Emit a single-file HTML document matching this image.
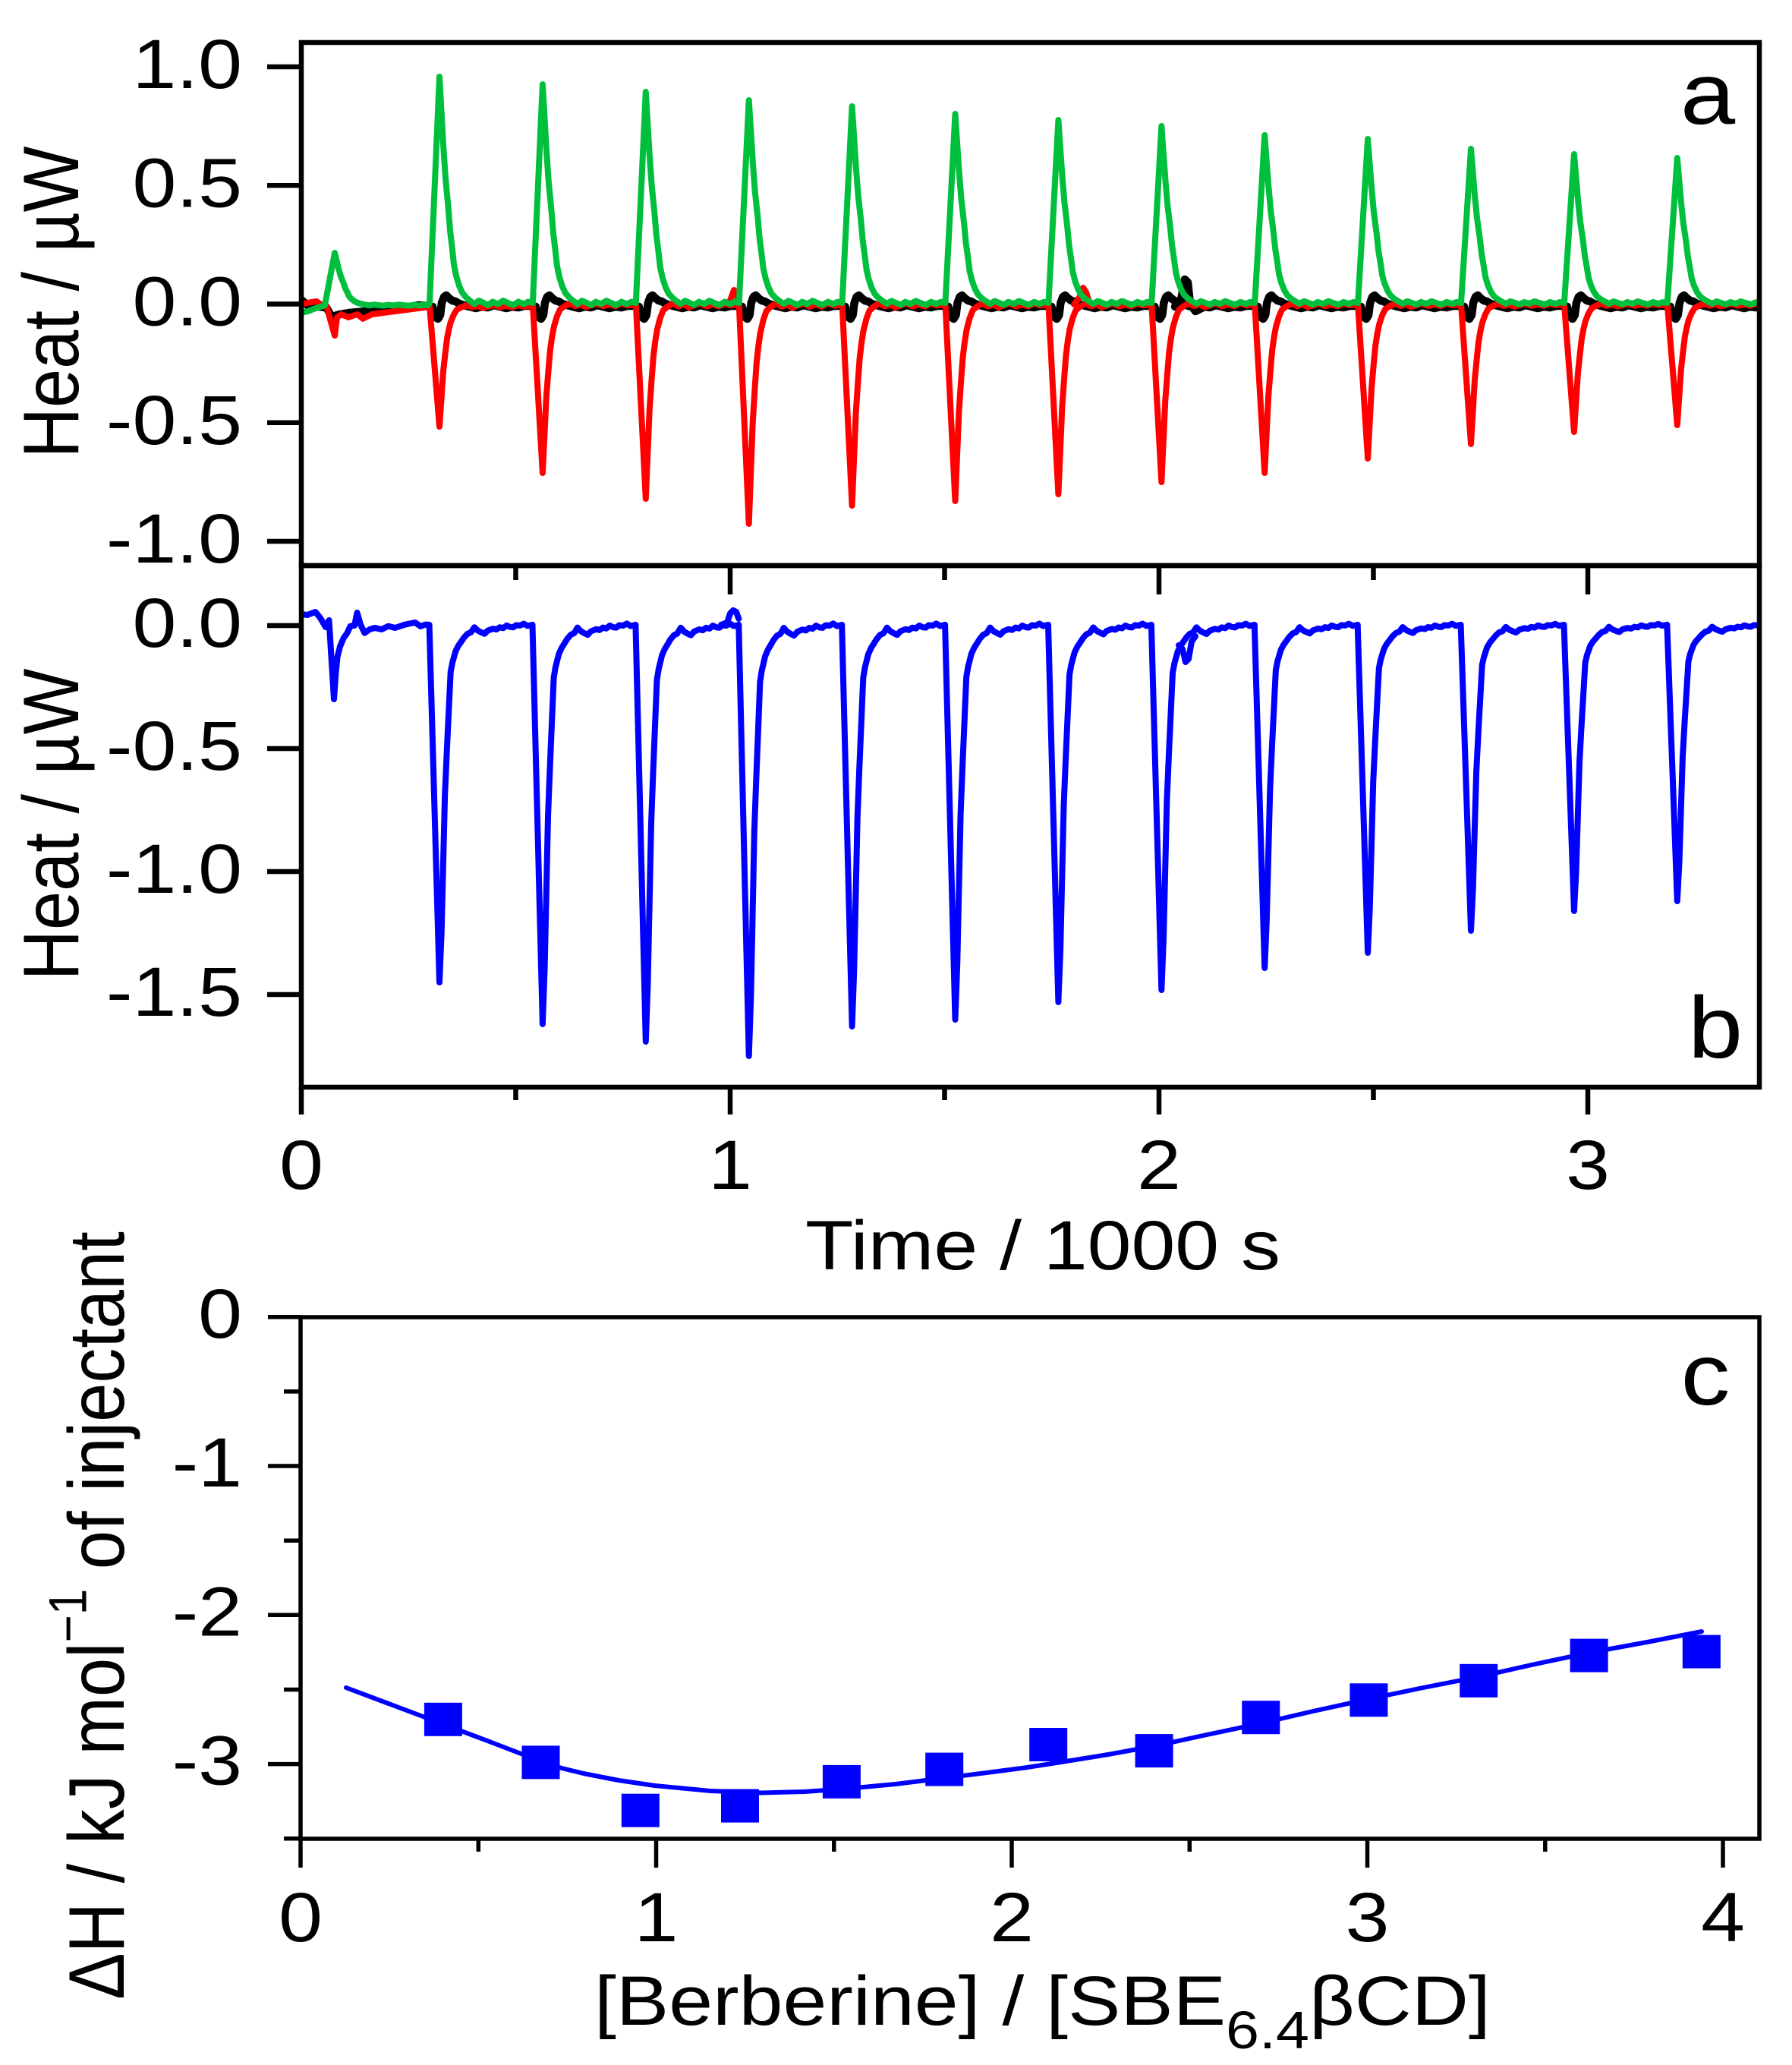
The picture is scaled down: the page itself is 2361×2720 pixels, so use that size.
<!DOCTYPE html>
<html><head><meta charset="utf-8"><style>html,body{margin:0;padding:0;background:#fff}svg{display:block}</style></head>
<body>
<svg xmlns="http://www.w3.org/2000/svg" width="2361" height="2720" viewBox="0 0 2361 2720" font-family="'Liberation Sans', Arial, sans-serif">
<rect width="2361" height="2720" fill="#fff"/>
<defs>
<clipPath id="ca"><rect x="400" y="59" width="1915" height="683"/></clipPath>
<clipPath id="cb"><rect x="400" y="748" width="1915" height="681"/></clipPath>
<path id="g" fill="none" stroke="#00bf3c" stroke-width="8" stroke-linejoin="round" stroke-linecap="round" vector-effect="non-scaling-stroke"
 d="M-13 0 L0 -100 L5 -70 L8 -55 L11.7 -42 L14 -32 L16.8 -24 L19 -17 L22 -12 L26 -7.5 L30 -4.5 L35 -2.5 L40 -1 L46 0.5 L52 -1 L58 0 L64 1 L70 -0.5 L77 0.5 L84 -1 L90 0 L97 1 L104 -0.5 L111 0.5 L117 -0.5 L122.9 0"/>
<path id="r" fill="none" stroke="#ff0000" stroke-width="8" stroke-linejoin="round" stroke-linecap="round" vector-effect="non-scaling-stroke"
 d="M-13 0 L0 100 L5 54 L7.5 40 L10 27 L12.5 19 L15 13 L19 7 L23 3 L29 1 L36 -0.5 L43 1 L50 0 L57 1.5 L64 0.5 L72 -0.5 L80 1 L88 0 L96 1 L104 -0.5 L112 0.5 L122.9 0"/>
<path id="k" fill="none" stroke="#000" stroke-width="10.5" stroke-linejoin="round" stroke-linecap="round"
 d="M-13 0 L-9 1 L-6 14 L-2 17 L1 12 L3 -4 L6 -12 L9 -14 L13 -10 L17 -7 L21 -6 L26 -3 L32 -1 L40 1 L48 3 L56 1 L64 2 L72 -1 L80 1 L88 3 L96 1 L104 2 L112 0 L122.9 0"/>
<path id="b" fill="none" stroke="#0000ff" stroke-width="8" stroke-linejoin="round" stroke-linecap="round" vector-effect="non-scaling-stroke"
 d="M-13.4 0 L0 100 L2.7 86 L4.9 67 L7.1 48 L9.8 35 L12.5 23 L14.7 13.2 L17 10.6 L21.4 7.3 L25 5.8 L28 4.9 L32.6 3.5 L37 2.5 L41.5 2.1 L46 0.7 L50.4 1.6 L55 2.1 L59.4 2.5 L63.8 1.6 L70.5 1.1 L75 1.3 L79.5 0.7 L84 0.9 L88.4 0.2 L93 0.6 L97 0.7 L101 0.1 L106 0.2 L111 -0.3 L116 0.3 L122.5 0"/>
</defs>

<!-- ============ Panel a ============ -->
<g clip-path="url(#ca)">
 <path fill="none" stroke="#000" stroke-width="10.5" stroke-linejoin="round" stroke-linecap="round"
  d="M397 395 L405.7 402.6 L420 404 L430 405 L434 412 L437 418 L441 416 L447.7 414 L460 412 L482 410 L500 409 L520 407 L539.6 404.5 L551 402 L566 403"/>
 <use href="#k" transform="translate(579,403)"/>
 <use href="#k" transform="translate(714.9,403)"/>
 <use href="#k" transform="translate(850.8,403)"/>
 <use href="#k" transform="translate(986.7,403)"/>
 <use href="#k" transform="translate(1122.6,403)"/>
 <use href="#k" transform="translate(1258.5,403)"/>
 <use href="#k" transform="translate(1394.4,403)"/>
 <use href="#k" transform="translate(1530.3,403)"/>
 <use href="#k" transform="translate(1666.2,403)"/>
 <use href="#k" transform="translate(1802.1,403)"/>
 <use href="#k" transform="translate(1938,403)"/>
 <use href="#k" transform="translate(2073.9,403)"/>
 <use href="#k" transform="translate(2209.8,403)"/>
 <path fill="none" stroke="#000" stroke-width="10.5" stroke-linejoin="round" stroke-linecap="round"
  d="M1548 404 L1556 395 L1561 368 L1565 372 L1568 400 L1575 410 L1585 405"/>
 <path fill="none" stroke="#ff0000" stroke-width="8" stroke-linejoin="round" stroke-linecap="round"
  d="M397 400.7 L405.7 398.8 L417 397 L424.8 402.6 L430.5 404.5 L441 442 L444 418 L449.7 414 L459 418 L470.7 414 L478 419.8 L490 414 L505 412 L520.5 410 L535.8 408 L551 406 L566 404"/>
 <use href="#r" transform="translate(579,403) scale(1,1.59)"/>
 <use href="#r" transform="translate(714.9,401) scale(1,2.22)"/>
 <use href="#r" transform="translate(850.8,401) scale(1,2.56)"/>
 <use href="#r" transform="translate(986.7,401) scale(1,2.89)"/>
 <use href="#r" transform="translate(1122.6,401) scale(1,2.65)"/>
 <use href="#r" transform="translate(1258.5,401) scale(1,2.59)"/>
 <use href="#r" transform="translate(1394.4,401) scale(1,2.50)"/>
 <use href="#r" transform="translate(1530.3,401) scale(1,2.34)"/>
 <use href="#r" transform="translate(1666.2,401) scale(1,2.22)"/>
 <use href="#r" transform="translate(1802.1,401) scale(1,2.03)"/>
 <use href="#r" transform="translate(1938,401) scale(1,1.84)"/>
 <use href="#r" transform="translate(2073.9,401) scale(1,1.68)"/>
 <use href="#r" transform="translate(2209.8,401) scale(1,1.59)"/>
 <path fill="none" stroke="#ff0000" stroke-width="8" stroke-linejoin="round" stroke-linecap="round"
  d="M955 401 L962 396 L967 382 L971 388 L974 401 M1415 401 L1422 392 L1427 379 L1431 385 L1436 401"/>
 <path fill="none" stroke="#00bf3c" stroke-width="8" stroke-linejoin="round" stroke-linecap="round"
  d="M397 412 L405.7 410 L413 407 L421 404.5 L428 402 M563.9 402 L566 399"/>
 <use href="#g" transform="translate(441,402) scale(1,0.69)"/>
 <use href="#g" transform="translate(579,399) scale(1,2.98)"/>
 <use href="#g" transform="translate(714.9,399) scale(1,2.88)"/>
 <use href="#g" transform="translate(850.8,399) scale(1,2.78)"/>
 <use href="#g" transform="translate(986.7,399) scale(1,2.67)"/>
 <use href="#g" transform="translate(1122.6,399) scale(1,2.59)"/>
 <use href="#g" transform="translate(1258.5,399) scale(1,2.49)"/>
 <use href="#g" transform="translate(1394.4,399) scale(1,2.41)"/>
 <use href="#g" transform="translate(1530.3,399) scale(1,2.33)"/>
 <use href="#g" transform="translate(1666.2,399) scale(1,2.21)"/>
 <use href="#g" transform="translate(1802.1,399) scale(1,2.16)"/>
 <use href="#g" transform="translate(1938,399) scale(1,2.03)"/>
 <use href="#g" transform="translate(2073.9,399) scale(1,1.96)"/>
 <use href="#g" transform="translate(2209.8,399) scale(1,1.91)"/>
</g>

<!-- ============ Panel b ============ -->
<g clip-path="url(#cb)">
 <path fill="none" stroke="#0000ff" stroke-width="8" stroke-linejoin="round" stroke-linecap="round"
  d="M397 809 L405 810 L415.6 806 L422 814 L429 826 L433.5 817 L440 921 L442.4 887 L444.6 865 L448 851.6 L452.7 840.4 L457 834.6 L461.6 824.8 L467 824 L470.5 807 L475 822.6 L480.4 833.8 L487 829 L493.8 827 L502.7 829 L511.6 824.8 L520.5 827 L534 822.6 L547 820 L554 825 L560.7 822.6 L565.6 823"/>
 <use href="#b" transform="translate(579,823) scale(1,4.71)"/>
 <use href="#b" transform="translate(714.9,823) scale(1,5.26)"/>
 <use href="#b" transform="translate(850.8,823) scale(1,5.49)"/>
 <use href="#b" transform="translate(986.7,823) scale(1,5.68)"/>
 <use href="#b" transform="translate(1122.6,823) scale(1,5.29)"/>
 <use href="#b" transform="translate(1258.5,823) scale(1,5.20)"/>
 <use href="#b" transform="translate(1394.4,823) scale(1,4.97)"/>
 <use href="#b" transform="translate(1530.3,823) scale(1,4.81)"/>
 <use href="#b" transform="translate(1666.2,823) scale(1,4.52)"/>
 <use href="#b" transform="translate(1802.1,823) scale(1,4.32)"/>
 <use href="#b" transform="translate(1938,823) scale(1,4.03)"/>
 <use href="#b" transform="translate(2073.9,823) scale(1,3.77)"/>
 <use href="#b" transform="translate(2209.8,823) scale(1,3.64)"/>
 <path fill="none" stroke="#0000ff" stroke-width="8" stroke-linejoin="round" stroke-linecap="round"
  d="M950 823 L958 820 L962 808 L966 804 L970 806 L973.3 815 M1553 850 L1558 855 L1562 872 L1566 868 L1570 845 L1575 838"/>
</g>

<g fill="none" stroke="#000" stroke-width="6.5">
 <rect x="397" y="56" width="1921" height="689"/>
 <rect x="397" y="745" width="1921" height="687"/>
 <path d="M352 88 H397 M352 244.3 H397 M352 400.5 H397 M352 556.8 H397 M352 713 H397"/>
 <path d="M352 824 H397 M352 986 H397 M352 1148 H397 M352 1310 H397"/>
 <path d="M962 745 V783 M1527 745 V783 M2092 745 V783 M679.5 745 V764 M1244.5 745 V764 M1809.5 745 V764"/>
 <path d="M397 1432 V1468 M962 1432 V1468 M1527 1432 V1468 M2092 1432 V1468 M679.5 1432 V1449 M1244.5 1432 V1449 M1809.5 1432 V1449"/>
</g>

<!-- ============ Panel c ============ -->
<g fill="none" stroke="#000" stroke-width="5.5">
 <rect x="396" y="1735" width="1922" height="687"/>
 <path d="M353 1734.7 H396 M353 1931 H396 M353 2127.3 H396 M353 2323.6 H396"/>
 <path d="M374 1832.9 H396 M374 2029.2 H396 M374 2225.5 H396 M374 2421.8 H396"/>
 <path d="M396 2422 V2460 M864.5 2422 V2460 M1333 2422 V2460 M1801.5 2422 V2460 M2270 2422 V2460"/>
 <path d="M630.3 2422 V2439 M1098.8 2422 V2439 M1567.3 2422 V2439 M2035.8 2422 V2439"/>
</g>
<polyline fill="none" stroke="#0000ff" stroke-width="6" stroke-linejoin="round" stroke-linecap="round"
 points="456,2223 520,2247 583.9,2271 650,2296 712.5,2320 740,2329 768.8,2336 815,2345 862.5,2352 936,2359 1003,2361.5 1060,2360 1110,2356.5 1180,2350 1244,2342 1300,2335 1350,2328.5 1401.5,2320.5 1460,2311 1520.6,2300 1590,2285 1661,2270 1730,2254 1803,2238 1875,2223 1948,2208.7 2020,2192.5 2093.6,2177 2170,2163 2242,2149"/>
<g fill="#0000ff">
 <rect x="558.9" y="2242.8" width="50" height="44"/>
 <rect x="687.5" y="2299.4" width="50" height="44"/>
 <rect x="818.8" y="2362.7" width="50" height="44"/>
 <rect x="950" y="2356.6" width="50" height="44"/>
 <rect x="1083.9" y="2324.9" width="50" height="44"/>
 <rect x="1219.2" y="2308.6" width="50" height="44"/>
 <rect x="1356.2" y="2276" width="50" height="44"/>
 <rect x="1495.6" y="2284.1" width="50" height="44"/>
 <rect x="1636.3" y="2240.2" width="50" height="44"/>
 <rect x="1778.4" y="2217.3" width="50" height="44"/>
 <rect x="1923.2" y="2191.8" width="50" height="44"/>
 <rect x="2068.6" y="2158.6" width="50" height="44"/>
 <rect x="2216.8" y="2153.5" width="50" height="44"/>
</g>

<!-- ============ Text ============ -->
<g font-size="92" fill="#000">
 <g text-anchor="end">
  <text transform="translate(319,116) scale(1.13,1)">1.0</text>
  <text transform="translate(319,272.3) scale(1.13,1)">0.5</text>
  <text transform="translate(319,428.5) scale(1.13,1)">0.0</text>
  <text transform="translate(319,584.8) scale(1.13,1)">-0.5</text>
  <text transform="translate(319,741) scale(1.13,1)">-1.0</text>
  <text transform="translate(319,852) scale(1.13,1)">0.0</text>
  <text transform="translate(319,1014) scale(1.13,1)">-0.5</text>
  <text transform="translate(319,1176) scale(1.13,1)">-1.0</text>
  <text transform="translate(319,1338) scale(1.13,1)">-1.5</text>
  <text transform="translate(319,1762) scale(1.13,1)">0</text>
  <text transform="translate(319,1958) scale(1.13,1)">-1</text>
  <text transform="translate(319,2154.3) scale(1.13,1)">-2</text>
  <text transform="translate(319,2350.6) scale(1.13,1)">-3</text>
 </g>
 <g text-anchor="middle">
  <text transform="translate(397,1566) scale(1.13,1)">0</text>
  <text transform="translate(962,1566) scale(1.13,1)">1</text>
  <text transform="translate(1527,1566) scale(1.13,1)">2</text>
  <text transform="translate(2092,1566) scale(1.13,1)">3</text>
  <text transform="translate(1374,1672) scale(1.13,1)">Time / 1000 s</text>
  <text transform="translate(396,2557) scale(1.13,1)">0</text>
  <text transform="translate(864.5,2557) scale(1.13,1)">1</text>
  <text transform="translate(1333,2557) scale(1.13,1)">2</text>
  <text transform="translate(1801.5,2557) scale(1.13,1)">3</text>
  <text transform="translate(2270,2557) scale(1.13,1)">4</text>
  <text transform="translate(103,398) scale(1.13,1) rotate(-90)">Heat / µW</text>
  <text transform="translate(103,1086) scale(1.13,1) rotate(-90)">Heat / µW</text>
  <text transform="translate(163,2128) scale(1.13,1) rotate(-90)">ΔH / kJ mol<tspan font-size="62" dy="-44">−1</tspan><tspan dy="44"> of injectant</tspan></text>
 </g>
 <text transform="translate(783,2667) scale(1.13,1)">[Berberine] / [SBE<tspan font-size="70" dy="31">6.4</tspan><tspan dy="-31">βCD]</tspan></text>
 <g text-anchor="middle" font-size="115">
  <text transform="translate(2250,163) scale(1.13,1)">a</text>
  <text transform="translate(2260,1393) scale(1.13,1)">b</text>
  <text transform="translate(2247,1850) scale(1.13,1)">c</text>
 </g>
</g>
</svg>
</body></html>
